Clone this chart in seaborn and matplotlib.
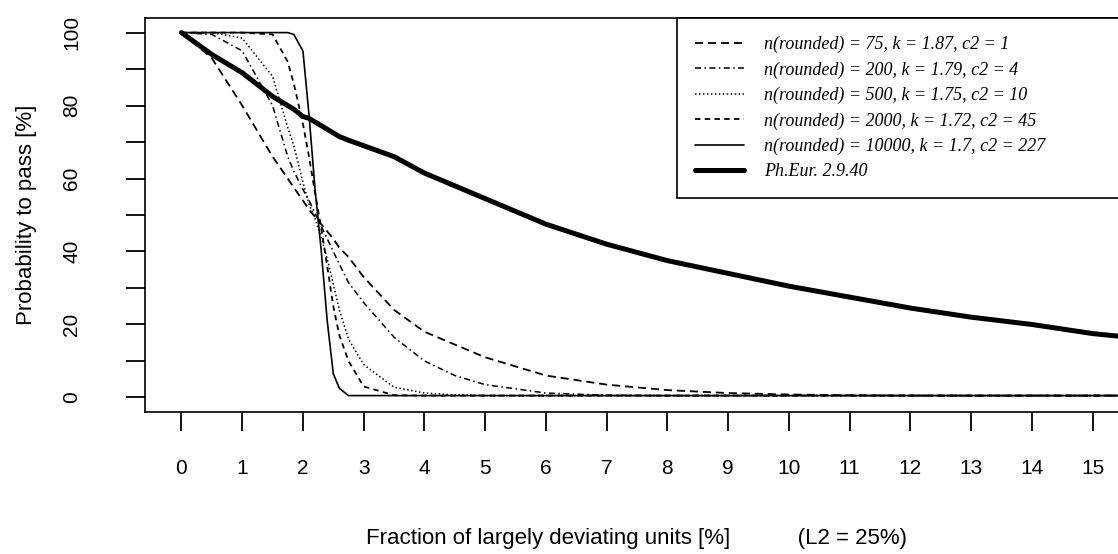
import matplotlib
matplotlib.use("Agg")
import matplotlib.pyplot as plt
import seaborn as sns


# fraction of largely deviating units [%]
fraction = [0, 0.5, 1, 1.5, 1.75, 1.85, 2, 2.1, 2.2, 2.3, 2.4, 2.5, 2.6, 2.75, 3,
            3.5, 4, 4.5, 5, 6, 7, 8, 9, 10, 11, 12, 13, 14, 15, 15.6]

# probability to pass [%] for each sampling plan
pass_n75 = [100, 93, 80, 66, 60, 57.5, 54, 51.5, 49.5, 47.5, 45.5, 43.5, 41, 38.5, 33,
            24, 18, 14.5, 11, 6, 3.5, 2, 1.2, 0.8, 0.6, 0.5, 0.5, 0.5, 0.5, 0.5]
pass_n200 = [100, 99.5, 95, 80, 66, 62, 57, 54, 50.5, 47, 43.5, 40, 36.5, 31.5, 26,
             16.5, 10, 6, 3.5, 1.2, 0.6, 0.5, 0.5, 0.5, 0.5, 0.5, 0.5, 0.5, 0.5, 0.5]
pass_n500 = [100, 100, 98.5, 88, 74, 69, 59, 53, 49, 44, 38, 31, 24, 16, 9,
             2.8, 1.2, 0.7, 0.5, 0.5, 0.5, 0.5, 0.5, 0.5, 0.5, 0.5, 0.5, 0.5, 0.5, 0.5]
pass_n2000 = [100, 100, 100, 99.5, 92, 86, 75, 66, 56, 46.5, 36, 25, 17, 10, 3,
              0.6, 0.5, 0.5, 0.5, 0.5, 0.5, 0.5, 0.5, 0.5, 0.5, 0.5, 0.5, 0.5, 0.5, 0.5]
pass_n10000 = [100, 100, 100, 100, 100, 99.5, 95, 77.5, 57, 40.5, 21, 6.5, 2.5, 0.5, 0.5,
               0.5, 0.5, 0.5, 0.5, 0.5, 0.5, 0.5, 0.5, 0.5, 0.5, 0.5, 0.5, 0.5, 0.5, 0.5]
pass_pheur = [100, 94, 89, 82.5, 80, 79, 77, 76.5, 75.5, 74.5, 73.5, 72.5, 71.5, 70.5, 69,
              66, 61.5, 58, 54.5, 47.5, 42, 37.5, 34, 30.5, 27.5, 24.5, 22, 20, 17.5, 16.5]

series_labels = [
    "n(rounded) = 75, k = 1.87, c2 = 1",
    "n(rounded) = 200, k = 1.79, c2 = 4",
    "n(rounded) = 500, k = 1.75, c2 = 10",
    "n(rounded) = 2000, k = 1.72, c2 = 45",
    "n(rounded) = 10000, k = 1.7, c2 = 227",
    "Ph.Eur. 2.9.40",
]

x_ticks = list(range(0, 16))
y_ticks = list(range(0, 101, 10))
y_tick_labels = ["0", "", "20", "", "40", "", "60", "", "80", "", "100"]


def main():
    sns.set_theme(style="ticks")
    plt.rcParams["font.family"] = ["Liberation Sans", "DejaVu Sans"]
    plt.rcParams["text.color"] = "black"
    plt.rcParams["axes.labelcolor"] = "black"
    plt.rcParams["xtick.color"] = "black"
    plt.rcParams["ytick.color"] = "black"

    fig = plt.figure(figsize=(11.18, 5.54), dpi=100)
    ax = fig.add_axes([0.1297, 0.2563, 0.8801, 0.7112])

    styles = [
        dict(linestyle=(0, (4.5, 2.7)), linewidth=1.3),
        dict(linestyle=(0, (4, 2.2, 1, 2.2)), linewidth=1.1),
        dict(linestyle=(0, (1, 1.6)), linewidth=1.1),
        dict(linestyle=(0, (3, 2.4)), linewidth=1.3),
        dict(linestyle="-", linewidth=1.2),
        dict(linestyle="-", linewidth=3.6),
    ]
    all_series = [pass_n75, pass_n200, pass_n500, pass_n2000, pass_n10000, pass_pheur]

    for values, label, style in zip(all_series, series_labels, styles):
        sns.lineplot(x=fraction, y=values, ax=ax, color="black", label=label,
                     estimator=None, **style)

    ax.set_xlim(-0.6, 15.6)
    ax.set_ylim(-4, 104)
    ax.set_xticks(x_ticks)
    ax.set_xticklabels([str(t) for t in x_ticks], fontsize=15)
    ax.set_yticks(y_ticks)
    ax.set_yticklabels(y_tick_labels, rotation=90, va="center", fontsize=15)
    ax.tick_params(axis="x", direction="out", length=14, width=1.3, pad=20,
                   colors="black", labelcolor="black")
    ax.tick_params(axis="y", direction="out", length=14, width=1.3, pad=32,
                   colors="black", labelcolor="black")

    for spine in ax.spines.values():
        spine.set_visible(True)
        spine.set_color("black")
        spine.set_linewidth(1.2)

    ax.set_xlabel("Fraction of largely deviating units [%]           (L2 = 25%)",
                  fontsize=16, labelpad=36, color="black")
    ax.set_ylabel("Probability to pass [%]", fontsize=16, labelpad=18, color="black")

    legend_left = (677 - 145) / 984
    leg = ax.legend(
        loc="upper left",
        bbox_to_anchor=(legend_left, 0, 1 - legend_left, 1),
        mode="expand",
        borderaxespad=0,
        frameon=True,
        fancybox=False,
        framealpha=1,
        edgecolor="black",
        prop=dict(family="Liberation Serif", style="italic", size=13),
        borderpad=1.0,
        labelspacing=0.45,
        handlelength=2.7,
        handletextpad=1.1,
    )
    leg.get_frame().set_linewidth(1.2)

    fig.savefig("out.png", dpi=100)
    plt.close(fig)


if __name__ == "__main__":
    main()
